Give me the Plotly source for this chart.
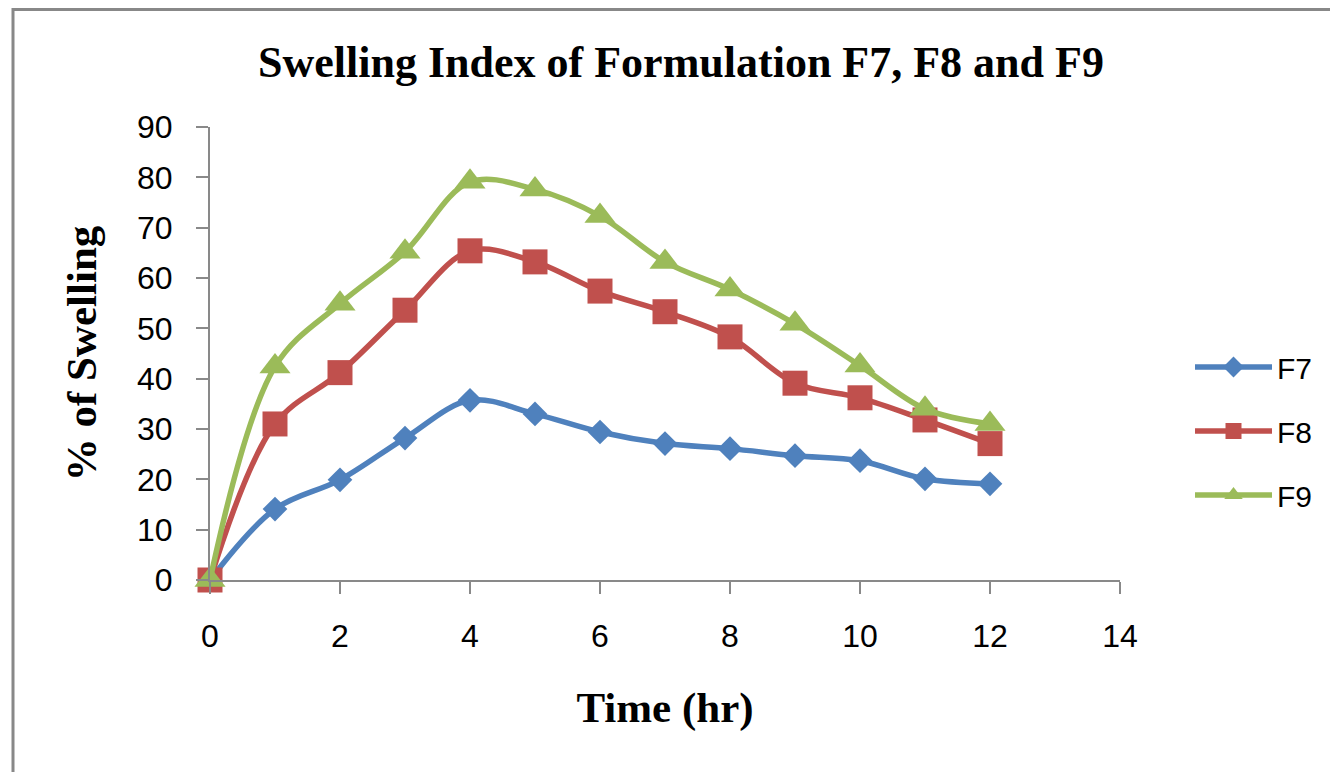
import plotly.graph_objects as go

time_hr = [0, 1, 2, 3, 4, 5, 6, 7, 8, 9, 10, 11, 12]
f7 = [0, 14.1, 19.9, 28.2, 35.7, 33.0, 29.4, 27.1, 26.1, 24.7, 23.7, 20.1, 19.1]
f8 = [0, 31.0, 41.2, 53.6, 65.4, 63.2, 57.4, 53.3, 48.3, 39.1, 36.2, 31.8, 27.1]
f9 = [0, 42.4, 54.9, 65.2, 79.1, 77.6, 72.3, 63.2, 57.7, 50.9, 42.6, 34.0, 31.0]
x_ticks = [0, 2, 4, 6, 8, 10, 12, 14]
y_ticks = [0, 10, 20, 30, 40, 50, 60, 70, 80, 90]

series = [
    ("F7", f7, "#4F81BD", "diamond", 19),
    ("F8", f8, "#C0504D", "square", 25),
    ("F9", f9, "#9BBB59", "triangle-up", 27),
]

fig = go.Figure()
for name, vals, color, sym, size in series:
    fig.add_trace(go.Scatter(
        x=time_hr, y=vals, name=name, mode="lines+markers",
        line=dict(color=color, width=5.5, shape="spline", smoothing=1.0),
        marker=dict(symbol=sym, size=size, color=color),
        cliponaxis=False, legendgroup=name,
    ))

# page offset (browser body margin)
OFF = 8
W, H = 1338 - OFF, 772 - OFF
L, R, T, B = 210 - OFF, 1120 - OFF, 127 - OFF, 580 - OFF
pw, ph = R - L, B - T

def px(x):
    return (x - OFF - L) / pw

def py(y):
    return (B - (y - OFF)) / ph

fig.update_layout(
    width=W, height=H,
    margin=dict(l=L, r=W - R, t=T, b=H - B),
    paper_bgcolor="white", plot_bgcolor="white",
    showlegend=True,
    title=dict(text="<b>Swelling Index of Formulation F7, F8 and F9</b>",
               x=px(681), xref="paper", xanchor="center",
               y=1 - (62 - OFF) / H, yref="container", yanchor="middle",
               font=dict(family="Liberation Serif", size=44, color="black")),
    legend=dict(x=px(1190), y=py(341), xanchor="left", yanchor="top",
                xref="paper", yref="paper",
                font=dict(family="Liberation Sans", size=30, color="black"),
                tracegroupgap=22, itemwidth=77, bgcolor="rgba(0,0,0,0)"),
    font=dict(family="Liberation Sans", color="black"),
    shapes=[dict(type="rect", xref="paper", yref="paper",
                 x0=px(13), x1=px(1360), y0=py(800), y1=py(9.5),
                 line=dict(color="#888888", width=3), layer="below")],
)

fig.update_xaxes(range=[0, 14], tickvals=x_ticks, ticktext=[str(v) for v in x_ticks],
                 showline=True, linecolor="#898989", linewidth=2,
                 ticks="outside", ticklen=12, tickcolor="#898989", tickwidth=2,
                 ticklabelstandoff=15,
                 showgrid=False, zeroline=False,
                 tickfont=dict(family="Liberation Sans", size=32, color="black"),
                 title=dict(text="<b>Time (hr)</b>", standoff=38,
                            font=dict(family="Liberation Serif", size=43, color="black")))
fig.update_yaxes(range=[0, 90], tickvals=y_ticks, ticktext=[str(v) for v in y_ticks],
                 showline=True, linecolor="#898989", linewidth=2,
                 ticks="outside", ticklen=12, tickcolor="#898989", tickwidth=2,
                 ticklabelstandoff=17,
                 showgrid=False, zeroline=False,
                 tickfont=dict(family="Liberation Sans", size=32, color="black"),
                 title=dict(text="<b>% of Swelling</b>", standoff=27,
                            font=dict(family="Liberation Serif", size=43, color="black")))

fig.write_html("out.html")
